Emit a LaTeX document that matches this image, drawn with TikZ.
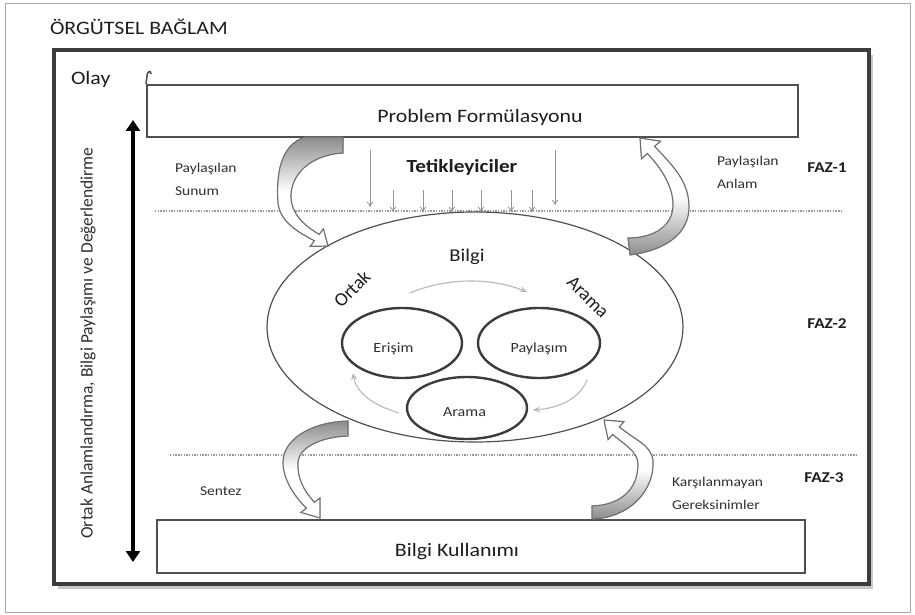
\documentclass[tikz,border=0pt]{standalone}
\usepackage{fontspec}
\setmainfont{Carlito}
\usepackage{graphicx}
\usetikzlibrary{shapes.geometric,arrows.meta}
\newcommand\wx[1]{\scalebox{1.15}[1]{#1}}
\newcommand\fsz[1]{\fontsize{#1}{23}\selectfont}
\definecolor{txtc}{HTML}{1E1E1E}
\definecolor{lblc}{HTML}{303030}
\definecolor{boxc}{HTML}{505050}
\definecolor{mainc}{HTML}{3C3C3C}
\definecolor{arrc}{HTML}{707070}
\begin{document}
\begin{tikzpicture}[x=1pt,y=-1pt,
  lbl/.style={inner sep=0pt, outer sep=0pt, text=lblc},
  boxst/.style={draw=boxc, line width=2pt, inner sep=0pt, fill=white},
  smallell/.style={ellipse, draw=mainc, line width=2.4pt, inner sep=0pt},
  barrow/.style={draw=arrc, line width=1.2pt},
  trig/.style={draw=gray!85, line width=0.8pt, -{To[length=5pt,width=6pt]}},
  dots/.style={draw=gray!80, line width=1.4pt, dash pattern=on 1.4pt off 1.3pt},
  innerarr/.style={draw=gray!55, line width=1.1pt, -{Stealth[length=7pt,width=6pt]}},
  dbl/.style={draw=black, line width=4.5pt, {Triangle[width=14pt,length=11pt]}-{Triangle[width=14pt,length=11pt]}}
]
\useasboundingbox (0,0) rectangle (915,615);
\fill[white] (0,0) rectangle (915,615);
\draw[gray!70, line width=0.8pt] (5,3) rectangle (910,612);

% title
\node[lbl, text=txtc, anchor=base west] (title) at (50,35) {\fsz{19}\wx{ÖRGÜTSEL BAĞLAM}};

% main context box with shadow
\fill[black!22] (58,55) rectangle (873,589);
\node[draw=mainc, line width=3.5pt, fill=white, inner sep=0pt,
      minimum width=815pt, minimum height=534pt] (ctx) at (461.5,317) {};

\node[lbl, text=txtc, anchor=base west] (olay) at (71,85) {\fsz{19}\wx{Olay}};

% boxes
\node[boxst, minimum width=651pt, minimum height=52pt] (pf) at (472.5,111) {};
\draw[boxc, line width=1.6pt] (pf.north west) -- (147,76) .. controls (147,71) and (151,70) .. (151,74);
\node[boxst, minimum width=648pt, minimum height=53pt] (bk) at (481,546.5) {};
\node[lbl, text=txtc, anchor=base] (pft) at (480,123) {\fsz{19}\wx{Problem Formülasyonu}};
\node[lbl, text=txtc, anchor=base] (bkt) at (457,556) {\fsz{19}\wx{Bilgi Kullanımı}};

% vertical double arrow and side text
\coordinate (va) at (133,120);
\coordinate (vb) at (133,562);
\draw[dbl] (va) -- (vb);
\node[lbl, rotate=90] (side) at (88,343) {\fsz{17.5}Ortak Anlamlandırma, Bilgi Paylaşımı ve Değerlendirme};

% dotted phase lines
\coordinate (d1a) at (155,211); \coordinate (d1b) at (843,211);
\coordinate (d2a) at (170,455); \coordinate (d2b) at (858,455);
\draw[dots] (d1a) -- (d1b);
\draw[dots] (d2a) -- (d2b);

% triggers
\node[lbl, text=txtc, anchor=base] (tet) at (462,172) {\fsz{18.5}\wx{\bfseries Tetikleyiciler}};
\coordinate (tla) at (370,150); \coordinate (tlb) at (370,207);
\coordinate (tra) at (555,150); \coordinate (trb) at (555,205);
\draw[trig] (tla) -- (tlb);
\draw[trig] (tra) -- (trb);
\foreach \xx/\ii in {393/a,423/b,452/c,481/d,511/e,532/f}{
  \coordinate (ts\ii) at (\xx,190);
  \coordinate (te\ii) at (\xx,212);
  \draw[trig] (ts\ii) -- (te\ii);
}

% phase labels
\node[lbl, text=txtc, anchor=base] (f1) at (827,172) {\fsz{15}\wx{\bfseries FAZ-1}};
\node[lbl, text=txtc, anchor=base] (f2) at (827,328) {\fsz{15}\wx{\bfseries FAZ-2}};
\node[lbl, text=txtc, anchor=base] (f3) at (824,482) {\fsz{15}\wx{\bfseries FAZ-3}};

% side labels
\node[lbl, anchor=base west] (ps) at (175,172) {\fsz{13.5}\wx{\begin{tabular}[t]{@{}l@{}}Paylaşılan\\Sunum\end{tabular}}};
\node[lbl, anchor=base west] (pa) at (717,165) {\fsz{13.5}\wx{\begin{tabular}[t]{@{}l@{}}Paylaşılan\\Anlam\end{tabular}}};
\node[lbl, anchor=base west] (sz) at (200,495) {\fsz{13.5}\wx{Sentez}};
\node[lbl, anchor=base west] (kg) at (672,486) {\fsz{13.5}\wx{\begin{tabular}[t]{@{}l@{}}Karşılanmayan\\Gereksinimler\end{tabular}}};

% big ellipse
\node[ellipse, draw=boxc, line width=1.2pt, inner sep=0pt,
      minimum width=416pt, minimum height=230pt] (big) at (475,327) {};
\node[lbl, text=txtc] (bilgi) at (467,257) {\fsz{18}\wx{Bilgi}};
\node[lbl, text=txtc, rotate=45] (ortak) at (352,289) {\fsz{19}Ortak};
\node[lbl, text=txtc, rotate=-45] (aramab) at (588,297) {\fsz{19}Arama};

% small ellipses
\node[smallell, minimum width=120pt, minimum height=70pt] (eri) at (402,343) {};
\node[smallell, minimum width=122pt, minimum height=70pt] (pay) at (539,343) {};
\node[smallell, minimum width=120pt, minimum height=62pt] (ara) at (467,408) {};
\node[lbl, anchor=base] (erit) at (393.5,352) {\fsz{14}\wx{Erişim}};
\node[lbl, anchor=base] (payt) at (539,352) {\fsz{14}\wx{Paylaşım}};
\node[lbl, anchor=base] (arat) at (464.5,416) {\fsz{14}\wx{Arama}};

% inner gray arrows
\coordinate (ia1) at (410,293); \coordinate (ib1) at (527,292);
\draw[innerarr] (ia1) .. controls (445,278) and (490,277) .. (ib1);
\coordinate (ia2) at (399,413); \coordinate (ib2) at (353,373);
\draw[innerarr] (ia2) .. controls (372,405) and (356,392) .. (ib2);
\coordinate (ia3) at (587,380); \coordinate (ib3) at (533,410);
\draw[innerarr] (ia3) .. controls (580,398) and (560,408) .. (ib3);

% curved block arrows
\filldraw[barrow, top color=black!45, bottom color=white, middle color=white]
 (305,137) .. controls (280,145) and (276,175) .. (278,203)
 .. controls (280,222) and (298,232) .. (314.4,240.8)
 -- (310.2,246.4) -- (328,246) -- (323.4,228.8) -- (319.2,234.4)
 .. controls (305,226) and (292,215) .. (291,198)
 .. controls (290,175) and (310,155) .. (343,153)
 -- (343,137) -- cycle;
\filldraw[barrow, top color=white, bottom color=black!45, middle color=white]
 (630,255) .. controls (668,250) and (690,232) .. (689,205)
 .. controls (688,180) and (672,165) .. (654.6,146.3)
 -- (660.5,141.2) -- (640,138) -- (641.5,158.8) -- (647.3,153.4)
 .. controls (660,167) and (673,185) .. (673,205)
 .. controls (673,225) and (655,238) .. (628,238) -- cycle;
\filldraw[barrow, top color=black!45, bottom color=white, middle color=white]
 (348,421) .. controls (310,422) and (283,440) .. (283,462)
 .. controls (283,480) and (295,497) .. (306.4,508.2)
 -- (300.8,512.4) -- (320,518) -- (320,498) -- (314.4,502.2)
 .. controls (303,490) and (297,477) .. (298,462)
 .. controls (299,448) and (320,437) .. (348,436) -- cycle;
\filldraw[barrow, top color=white, bottom color=black!45, middle color=white]
 (592,519) .. controls (630,518) and (655,490) .. (653,460)
 .. controls (651,445) and (635,440) .. (619.3,426.9)
 -- (623.9,421.6) -- (604,420) -- (608.1,439.6) -- (612.7,434.4)
 .. controls (625,445) and (638,452) .. (638,464)
 .. controls (638,490) and (620,505) .. (592,506) -- cycle;
\end{tikzpicture}
\end{document}
